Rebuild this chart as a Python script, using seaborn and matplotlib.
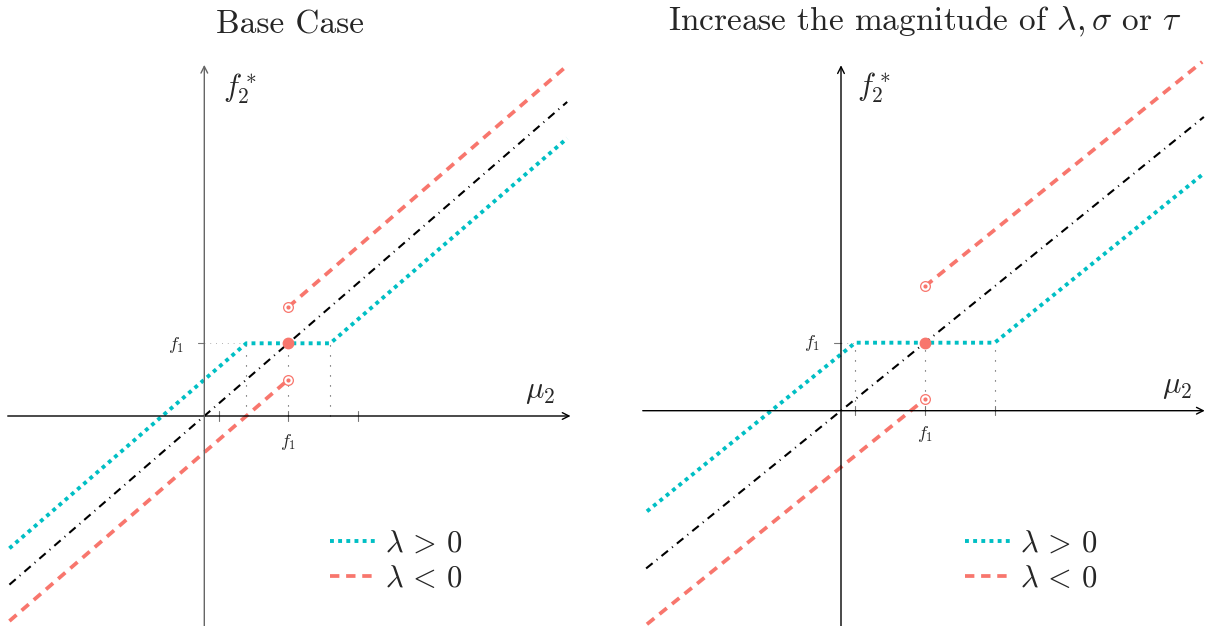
import numpy as np
import matplotlib
matplotlib.use("Agg")
import matplotlib.pyplot as plt
import seaborn as sns
from matplotlib.lines import Line2D

# Chart values (f1 normalised to 1)
f1 = 1.0
line_x = [-2.32, 4.32]

# Base case
base_cyan_x = [-2.32, 0.5, 1.5, 4.32]
base_cyan_y = [-1.82, 1.0, 1.0, 3.82]
base_red_low_x = [-2.32, 1.0]
base_red_low_y = [-2.82, 0.5]
base_red_high_x = [1.0, 4.32]
base_red_high_y = [1.5, 4.82]
base_guides = [0.5, 1.0, 1.5]
base_ticks = [0.17, 1.0, 1.83]

# Larger magnitude case
wide_cyan_x = [-2.31, 0.17, 1.83, 4.30]
wide_cyan_y = [-1.48, 1.0, 1.0, 3.47]
wide_red_low_x = [-2.31, 1.0]
wide_red_low_y = [-3.14, 0.17]
wide_red_high_x = [1.0, 4.30]
wide_red_high_y = [1.83, 5.13]
wide_guides = [0.17, 1.0, 1.83]
wide_ticks = [0.17, 1.0, 1.83]

titles = ["Base Case", r"Increase the magnitude of $\lambda, \sigma$ or $\tau$"]
legend_labels = [r"$\lambda\,>\,0$", r"$\lambda\,<\,0$"]

CYAN = "#00BFC4"
RED = "#F8766D"

sns.set_theme(style="white")
plt.rcParams["font.family"] = ["cmr10", "DejaVu Serif"]
plt.rcParams["mathtext.fontset"] = "cm"
plt.rcParams["axes.formatter.use_mathtext"] = True

W, H = 1211, 626
fig = plt.figure(figsize=(W / 100, H / 100), dpi=100)

dotted = (0, (1, 1.1))
dashed = (0, (2.5, 1.8))
dashdot = (0, (4, 2.5, 0.5, 2.5))


def draw_panel(ax, cyan_x, cyan_y, rl_x, rl_y, rh_x, rh_y, guides, ticks,
               xaxis, yaxis, ycolor, labels_pos, legend_px):
    ax.set_axis_off()
    # axes arrows
    ax.annotate("", xy=(xaxis[1], 0), xytext=(xaxis[0], 0),
                arrowprops=dict(arrowstyle="->", lw=1.0, color="black", shrinkA=0, shrinkB=0))
    ax.annotate("", xy=(0, yaxis[1]), xytext=(0, yaxis[0]),
                arrowprops=dict(arrowstyle="->", lw=1.0, color=ycolor, shrinkA=0, shrinkB=0))
    # ticks
    for t in ticks:
        ax.plot([t, t], [-0.07, 0.07], color="#777777", lw=0.8)
    ax.plot([-0.08, 0.0], [f1, f1], color="#777777", lw=0.8)
    ax.plot([0.0, cyan_x[1]], [f1, f1], color="#999999", lw=0.6, linestyle=(0, (1, 6)))
    for g in guides:
        ax.plot([g, g], [0, f1], color="#444444", lw=0.8, linestyle=(0, (1, 8)))

    sns.lineplot(x=line_x, y=line_x, ax=ax, color="black", lw=1.5,
                 linestyle=dashdot, sort=False, estimator=None, legend=False)
    sns.lineplot(x=cyan_x, y=cyan_y, ax=ax, color=CYAN, lw=2.8,
                 linestyle=dotted, sort=False, estimator=None, legend=False)
    for xs, ys in [(rl_x, rl_y), (rh_x, rh_y)]:
        sns.lineplot(x=xs, y=ys, ax=ax, color=RED, lw=2.7,
                     linestyle=dashed, sort=False, estimator=None, legend=False)
    # open end points and filled point
    ax.plot([rl_x[-1], rh_x[0]], [rl_y[-1], rh_y[0]], "o", ms=7, mfc="white",
            mec=RED, mew=0.9, zorder=5)
    ax.plot([rl_x[-1], rh_x[0]], [rl_y[-1], rh_y[0]], "o", ms=2, color=RED, zorder=5)
    ax.plot([f1], [f1], "o", ms=7.5, color=RED, zorder=6)

    (fx, fy), (mx, my), (yx, yy), (tx, ty) = labels_pos
    ax.text(fx, fy, r"$f_2^*$", fontsize=22, ha="center", va="center")
    ax.text(mx, my, r"$\mu_2$", fontsize=22, ha="center", va="center")
    ax.text(yx, yy, r"$f_1$", fontsize=13, ha="center", va="center")
    ax.text(tx, ty, r"$f_1$", fontsize=13, ha="center", va="center")

    handles = [Line2D([], [], color=CYAN, lw=2.8, linestyle=dotted),
               Line2D([], [], color=RED, lw=2.7, linestyle=dashed)]
    ax.legend(handles, legend_labels, loc="upper left",
              bbox_to_anchor=(legend_px[0] / W, 1 - legend_px[1] / H),
              bbox_transform=fig.transFigure, frameon=False, fontsize=22,
              borderpad=0, borderaxespad=0, handlelength=1.55,
              handletextpad=0.25, labelspacing=0.25)


top = 40
ax1 = fig.add_axes([0, 0, 605 / W, (H - top) / H])
ax1.set_xlim((0 - 204.3) / 84, (605 - 204.3) / 84)
ax1.set_ylim((416 - 626) / 72.7, (416 - top) / 72.7)
draw_panel(ax1, base_cyan_x, base_cyan_y, base_red_low_x, base_red_low_y,
           base_red_high_x, base_red_high_y, base_guides, base_ticks,
           xaxis=(-2.34, 4.36), yaxis=(-2.9, 4.83), ycolor="#666666",
           labels_pos=[(0.43, 4.51), (4.0, 0.32), (-0.34, 0.98), (1.0, -0.36)],
           legend_px=(330, 530))

ax2 = fig.add_axes([630 / W, 0, 581 / W, (H - top) / H])
ax2.set_xlim((630 - 841) / 84, (1211 - 841) / 84)
ax2.set_ylim((410.7 - 626) / 68, (410.7 - top) / 68)
draw_panel(ax2, wide_cyan_x, wide_cyan_y, wide_red_low_x, wide_red_low_y,
           wide_red_high_x, wide_red_high_y, wide_guides, wide_ticks,
           xaxis=(-2.36, 4.33), yaxis=(-3.2, 5.08), ycolor="black",
           labels_pos=[(0.39, 4.75), (4.0, 0.35), (-0.35, 1.0), (1.0, -0.34)],
           legend_px=(965, 530))

fig.text(290 / W, 1 - 25 / H, titles[0], fontsize=24, ha="center", va="center")
fig.text(925 / W, 1 - 22 / H, titles[1], fontsize=24, ha="center", va="center")

fig.savefig("out.png", dpi=100)
